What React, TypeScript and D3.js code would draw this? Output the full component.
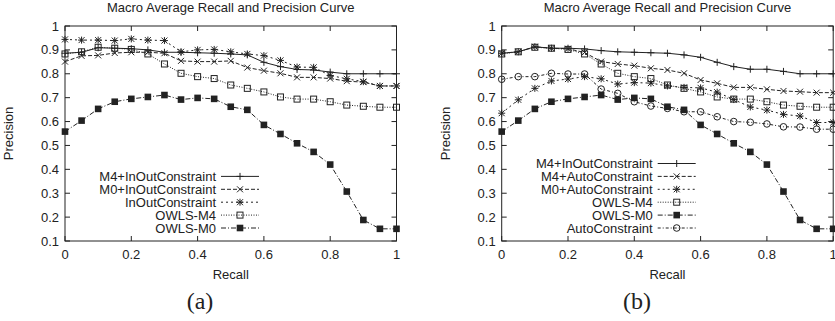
import React from "react";
import * as d3 from "d3";

// recall levels (x) shared by every curve
const recall = [0, 0.05, 0.1, 0.15, 0.2, 0.25, 0.3, 0.35, 0.4, 0.45, 0.5, 0.55, 0.6, 0.65, 0.7, 0.75, 0.8, 0.85, 0.9, 0.95, 1];

// panel (a)
const aM4InOut = [0.886, 0.89, 0.909, 0.907, 0.905, 0.9, 0.89, 0.89, 0.888, 0.886, 0.883, 0.879, 0.848, 0.83, 0.818, 0.816, 0.807, 0.8, 0.8, 0.8, 0.8];
const aM0InOut = [0.851, 0.875, 0.877, 0.887, 0.89, 0.89, 0.886, 0.854, 0.851, 0.851, 0.854, 0.826, 0.813, 0.802, 0.785, 0.785, 0.78, 0.769, 0.765, 0.749, 0.749];
const aInOut = [0.944, 0.941, 0.941, 0.939, 0.946, 0.941, 0.939, 0.892, 0.9, 0.902, 0.892, 0.883, 0.876, 0.856, 0.828, 0.827, 0.793, 0.779, 0.767, 0.749, 0.749];
const owlsM4 = [0.883, 0.892, 0.911, 0.907, 0.902, 0.883, 0.841, 0.802, 0.788, 0.78, 0.753, 0.739, 0.724, 0.703, 0.694, 0.694, 0.683, 0.669, 0.664, 0.66, 0.66];
const owlsM0 = [0.558, 0.604, 0.653, 0.683, 0.695, 0.703, 0.711, 0.692, 0.699, 0.695, 0.662, 0.649, 0.586, 0.548, 0.509, 0.473, 0.42, 0.307, 0.188, 0.151, 0.151];

// panel (b)
const bM4InOut = [0.886, 0.892, 0.913, 0.907, 0.907, 0.904, 0.897, 0.892, 0.89, 0.888, 0.886, 0.879, 0.869, 0.848, 0.83, 0.819, 0.819, 0.81, 0.8, 0.8, 0.8];
const bM4Auto = [0.886, 0.892, 0.913, 0.907, 0.905, 0.889, 0.851, 0.841, 0.834, 0.823, 0.816, 0.802, 0.774, 0.76, 0.743, 0.743, 0.735, 0.728, 0.725, 0.721, 0.721];
const bM0Auto = [0.635, 0.691, 0.739, 0.77, 0.778, 0.788, 0.779, 0.757, 0.763, 0.761, 0.749, 0.743, 0.741, 0.723, 0.692, 0.661, 0.648, 0.63, 0.623, 0.596, 0.596];
const bAuto = [0.777, 0.788, 0.788, 0.802, 0.799, 0.799, 0.736, 0.718, 0.683, 0.665, 0.655, 0.641, 0.641, 0.62, 0.6, 0.597, 0.59, 0.578, 0.577, 0.568, 0.568];

const xTicks = [0, 0.2, 0.4, 0.6, 0.8, 1];
const yTicks = [0.1, 0.2, 0.3, 0.4, 0.5, 0.6, 0.7, 0.8, 0.9, 1];

type Marker = "plus" | "cross" | "star" | "square" | "fsquare" | "circle";

interface Series {
  name: string;
  values: number[];
  marker: Marker;
  dash: string;
}

const DASH = {
  solid: "none",
  dashed: "4,2",
  short: "2,3",
  dotted: "1,1.5",
  dashdot: "5,2,1,2",
  dashdot2: "3,2,1,2",
};

const seriesA: Series[] = [
  { name: "M4+InOutConstraint", values: aM4InOut, marker: "plus", dash: DASH.solid },
  { name: "M0+InOutConstraint", values: aM0InOut, marker: "cross", dash: DASH.dashed },
  { name: "InOutConstraint", values: aInOut, marker: "star", dash: DASH.short },
  { name: "OWLS-M4", values: owlsM4, marker: "square", dash: DASH.dotted },
  { name: "OWLS-M0", values: owlsM0, marker: "fsquare", dash: DASH.dashdot },
];

const seriesB: Series[] = [
  { name: "M4+InOutConstraint", values: bM4InOut, marker: "plus", dash: DASH.solid },
  { name: "M4+AutoConstraint", values: bM4Auto, marker: "cross", dash: DASH.dashed },
  { name: "M0+AutoConstraint", values: bM0Auto, marker: "star", dash: DASH.short },
  { name: "OWLS-M4", values: owlsM4, marker: "square", dash: DASH.dotted },
  { name: "OWLS-M0", values: owlsM0, marker: "fsquare", dash: DASH.dashdot },
  { name: "AutoConstraint", values: bAuto, marker: "circle", dash: DASH.dashdot2 },
];

const INK = "#222";
const FONT = "'Liberation Sans', Arial, sans-serif";

function MarkerShape({ type, x, y }: { type: Marker; x: number; y: number }) {
  const s = 3.5;
  const plus = `M${x - s},${y}H${x + s}M${x},${y - s}V${y + s}`;
  const cross = `M${x - 3},${y - 3}L${x + 3},${y + 3}M${x - 3},${y + 3}L${x + 3},${y - 3}`;
  if (type === "plus") return <path d={plus} stroke={INK} strokeWidth={1} fill="none" />;
  if (type === "cross") return <path d={cross} stroke={INK} strokeWidth={1} fill="none" />;
  if (type === "star") return <path d={plus + cross} stroke={INK} strokeWidth={1} fill="none" />;
  if (type === "square")
    return <rect x={x - 3} y={y - 3} width={6} height={6} stroke={INK} strokeWidth={1} fill="none" />;
  if (type === "fsquare") return <rect x={x - 3.3} y={y - 3.3} width={6.6} height={6.6} fill={INK} />;
  return <circle cx={x} cy={y} r={3.3} stroke={INK} strokeWidth={1} fill="none" />;
}

function Panel({ left, series, label, labelX }: { left: number; series: Series[]; label: string; labelX: number }) {
  const top = 26;
  const bottom = 241;
  const width = 331.5;
  const x = d3.scaleLinear().domain([0, 1]).range([left, left + width]);
  const y = d3.scaleLinear().domain([0.1, 1]).range([bottom, top]);
  const line = d3
    .line<number>()
    .x((_, i) => x(recall[i]))
    .y((d) => y(d));

  const tick = 5;
  const legendLineEnd = left + 194;
  const legendLineStart = legendLineEnd - 38;
  const rowH = 12.9;
  const lastRow = 228;

  return (
    <g>
      <text x={x(0.5)} y={12} textAnchor="middle" fontSize={13} fontFamily={FONT} fill={INK}>
        Macro Average Recall and Precision Curve
      </text>

      {/* ticks, mirrored on all sides */}
      {yTicks.map((t) => (
        <g key={"y" + t}>
          <line x1={left} x2={left + tick} y1={y(t)} y2={y(t)} stroke={INK} />
          <line x1={left + width} x2={left + width - tick} y1={y(t)} y2={y(t)} stroke={INK} />
          <text x={left - 6} y={y(t)} dy="0.35em" textAnchor="end" fontSize={13} fontFamily={FONT} fill={INK}>
            {t === 1 ? "1" : t.toFixed(1)}
          </text>
        </g>
      ))}
      {xTicks.map((t) => (
        <g key={"x" + t}>
          <line x1={x(t)} x2={x(t)} y1={bottom} y2={bottom - tick} stroke={INK} />
          <line x1={x(t)} x2={x(t)} y1={top} y2={top + tick} stroke={INK} />
          <text x={x(t)} y={bottom + 18} textAnchor="middle" fontSize={13} fontFamily={FONT} fill={INK}>
            {t === 0 || t === 1 ? String(t) : t.toFixed(1)}
          </text>
        </g>
      ))}

      <text x={x(0.5)} y={279} textAnchor="middle" fontSize={13} fontFamily={FONT} fill={INK}>
        Recall
      </text>
      <text
        transform={`translate(${left - 52},${(top + bottom) / 2}) rotate(-90)`}
        textAnchor="middle"
        fontSize={13}
        fontFamily={FONT}
        fill={INK}
      >
        Precision
      </text>

      {series.map((s) => (
        <g key={s.name}>
          <path d={line(s.values) || ""} fill="none" stroke={INK} strokeWidth={1} strokeDasharray={s.dash} />
          {s.values.map((v, i) => (
            <MarkerShape key={i} type={s.marker} x={x(recall[i])} y={y(v)} />
          ))}
        </g>
      ))}

      {/* legend */}
      {series.map((s, i) => {
        const ry = lastRow - (series.length - 1 - i) * rowH;
        return (
          <g key={"lg" + s.name}>
            <text x={legendLineStart - 5} y={ry} dy="0.35em" textAnchor="end" fontSize={13} fontFamily={FONT} fill={INK}>
              {s.name}
            </text>
            <line x1={legendLineStart} x2={legendLineEnd} y1={ry} y2={ry} stroke={INK} strokeDasharray={s.dash} />
            <MarkerShape type={s.marker} x={(legendLineStart + legendLineEnd) / 2} y={ry} />
          </g>
        );
      })}

      <rect x={left} y={top} width={width} height={bottom - top} fill="none" stroke={INK} strokeWidth={1} />

      <text x={labelX} y={309} textAnchor="middle" fontSize={24} fontFamily="'Liberation Serif', 'DejaVu Serif', serif" fill={INK}>
        {label}
      </text>
    </g>
  );
}

export default function App() {
  return (
    <svg width={835} height={321} style={{ position: "absolute", left: 0, top: 0, background: "#fff" }}>
      <rect width={835} height={321} fill="#fff" />
      <Panel left={65} series={seriesA} label="(a)" labelX={200} />
      <Panel left={501.7} series={seriesB} label="(b)" labelX={637} />
    </svg>
  );
}
